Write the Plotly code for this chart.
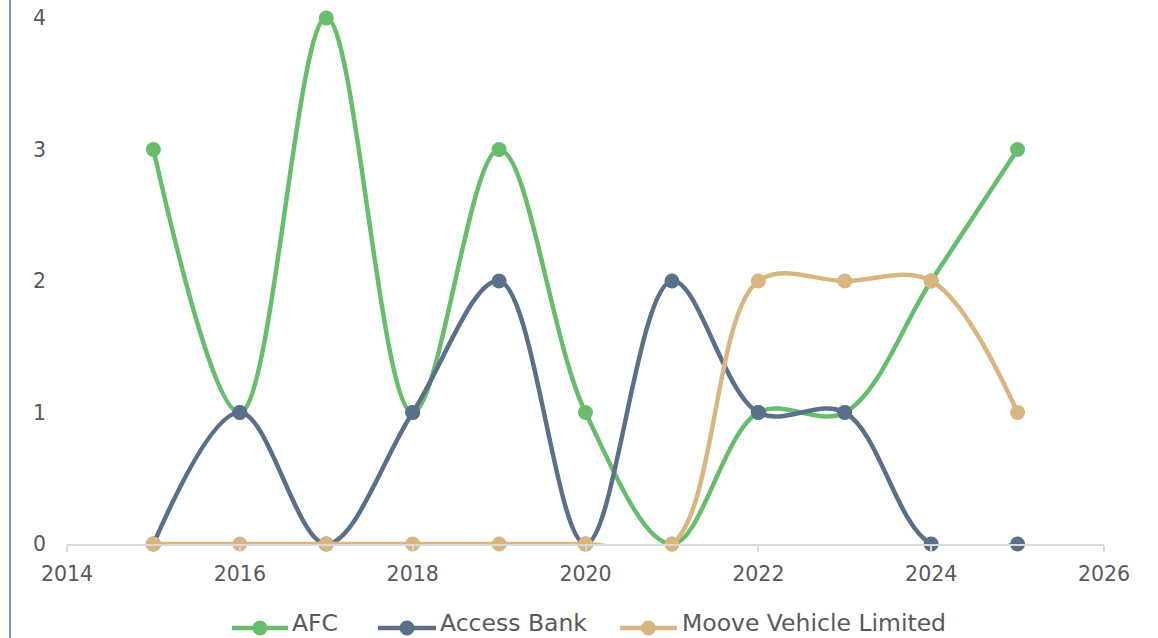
import plotly.graph_objects as go

# Yearly counts per organisation
years = [2015, 2016, 2017, 2018, 2019, 2020, 2021, 2022, 2023, 2024, 2025]
afc = [3, 1, 4, 1, 3, 1, 0, 1, 1, 2, 3]
access_bank = [0, 1, 0, 1, 2, 0, 2, 1, 1, 0, 0]
moove = [0, 0, 0, 0, 0, 0, 0, 2, 2, 2, 1]

series_names = ["AFC", "Access Bank", "Moove Vehicle Limited"]
series_values = [afc, access_bank, moove]
series_colors = ["#66BD6B", "#5A7089", "#D7B682"]

x_ticks = [2014, 2016, 2018, 2020, 2022, 2024, 2026]
y_ticks = [0, 1, 2, 3, 4]

FONT = "DejaVu Sans"
TEXT_COLOR = "#595959"
LINE_W = 4.5
MARKER_D = 15

fig = go.Figure()
for name, vals, color in zip(series_names, series_values, series_colors):
    fig.add_trace(go.Scatter(
        x=years, y=vals, name=name, mode="lines+markers",
        line=dict(color=color, width=LINE_W, shape="spline", smoothing=1.0),
        marker=dict(color=color, size=MARKER_D),
        cliponaxis=False, showlegend=False,
    ))

W, H = 1158, 638
L, R, T, B = 67, 54, 18, 94
plot_w = W - L - R
plot_h = H - T - B


def px_x(p):
    """Pixel column -> paper x."""
    return (p - L) / plot_w


def px_y(p):
    """Pixel row -> paper y."""
    return (H - B - p) / plot_h


fig.update_layout(
    width=W, height=H,
    margin=dict(l=L, r=R, t=T, b=B, autoexpand=False),
    paper_bgcolor="white", plot_bgcolor="white",
    font=dict(family=FONT, size=20.5, color=TEXT_COLOR),
    showlegend=False,
    xaxis=dict(
        range=[2014, 2026], tickvals=x_ticks, ticktext=[str(v) for v in x_ticks],
        showgrid=False, zeroline=False,
        showline=True, linecolor="#D9D9D9", linewidth=2,
        ticks="outside", ticklen=6, tickwidth=2, tickcolor="#D9D9D9",
        ticklabelstandoff=4,
        tickfont=dict(family=FONT, size=20.5, color=TEXT_COLOR),
    ),
    yaxis=dict(
        range=[0, 4], tickvals=y_ticks,
        showgrid=False, zeroline=False, showline=False,
        ticks="", ticklabelstandoff=20,
        tickfont=dict(family=FONT, size=20.5, color=TEXT_COLOR),
    ),
)

# Chart-area frame edge on the left
fig.add_shape(
    type="line", xref="paper", yref="paper",
    x0=px_x(10), x1=px_x(10), y0=px_y(700), y1=px_y(-20),
    line=dict(color="#7F96B0", width=2),
)

# Legend row along the bottom: line-with-dot swatch followed by the name
legend_items = [(232, 288, 291), (378, 436, 439), (620, 677, 681)]
legend_y = 628
for (s0, s1, tx), name, color in zip(legend_items, series_names, series_colors):
    fig.add_shape(
        type="line", xref="paper", yref="paper",
        x0=px_x(s0), x1=px_x(s1), y0=px_y(legend_y), y1=px_y(legend_y),
        line=dict(color=color, width=LINE_W),
    )
    cx = (s0 + s1) / 2
    fig.add_shape(
        type="circle", xref="paper", yref="paper",
        xsizemode="pixel", ysizemode="pixel",
        xanchor=px_x(cx), yanchor=px_y(legend_y),
        x0=-MARKER_D / 2, x1=MARKER_D / 2, y0=-MARKER_D / 2, y1=MARKER_D / 2,
        fillcolor=color, line=dict(width=0),
    )
    fig.add_annotation(
        xref="paper", yref="paper", x=px_x(tx), y=px_y(638),
        xanchor="left", yanchor="bottom", showarrow=False,
        text=name, borderpad=0,
        font=dict(family=FONT, size=23.5, color=TEXT_COLOR),
    )

fig.write_html("out.html")
